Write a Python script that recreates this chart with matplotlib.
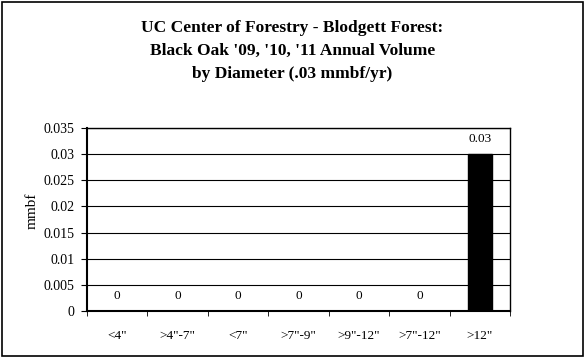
import matplotlib.pyplot as plt
from matplotlib.patches import Rectangle
import numpy as np

plt.rcParams['font.family'] = ['Liberation Serif', 'DejaVu Serif']

categories = ['<4"', '>4"-7"', '<7"', '>7"-9"', '>9"-12"', '>7"-12"', '>12"']
volumes = [0, 0, 0, 0, 0, 0, 0.03]
value_labels = ['0', '0', '0', '0', '0', '0', '0.03']
yticks = [0, 0.005, 0.01, 0.015, 0.02, 0.025, 0.03, 0.035]
ytick_labels = ['0', '0.005', '0.01', '0.015', '0.02', '0.025', '0.03', '0.035']

fig = plt.figure(figsize=(5.85, 3.6), dpi=100)
ax = fig.add_axes([87 / 585, 1 - 311 / 360, (510 - 87) / 585, (311 - 128) / 360])

# outer chart border
fig.patches.append(Rectangle((2 / 585, 4 / 360), 581 / 585, 354 / 360,
                             transform=fig.transFigure, fill=False,
                             edgecolor='black', linewidth=1.2))

x = np.arange(len(categories))
ax.bar(x, volumes, width=0.4, color='black', edgecolor='black', zorder=3)

for xi, v, lab in zip(x, volumes, value_labels):
    ax.text(xi, v + 0.0017, lab, ha='center', va='bottom', fontsize=9.5)

ax.set_xlim(-0.5, len(categories) - 0.5)
ax.set_ylim(0, 0.035)
ax.set_yticks(yticks)
ax.set_yticklabels(ytick_labels, fontsize=10)
ax.yaxis.grid(True, color='black', linewidth=0.8, zorder=0)
ax.set_axisbelow(True)

# category labels centred, ticks on category boundaries
ax.set_xticks(x)
ax.set_xticklabels(categories, fontsize=9.5)
ax.tick_params(axis='x', which='major', length=0, pad=14)
ax.set_xticks(np.arange(-0.5, len(categories)), minor=True)
ax.tick_params(axis='x', which='minor', length=3.5, direction='out')
ax.tick_params(axis='y', length=4, direction='out', pad=5)

for side in ['left', 'bottom']:
    ax.spines[side].set_linewidth(1.5)
for side in ['top', 'right']:
    ax.spines[side].set_linewidth(1.0)

ax.set_ylabel('mmbf', fontsize=11)
ax.yaxis.set_label_coords(-0.115, 0.55)

fig.text(0.5, 0.945, "UC Center of Forestry - Blodgett Forest:\n"
                     "Black Oak '09, '10, '11 Annual Volume\n"
                     "by Diameter (.03 mmbf/yr)",
         ha='center', va='top', fontsize=12.5, fontweight='bold', linespacing=1.6)

fig.savefig('out.png', dpi=100)
